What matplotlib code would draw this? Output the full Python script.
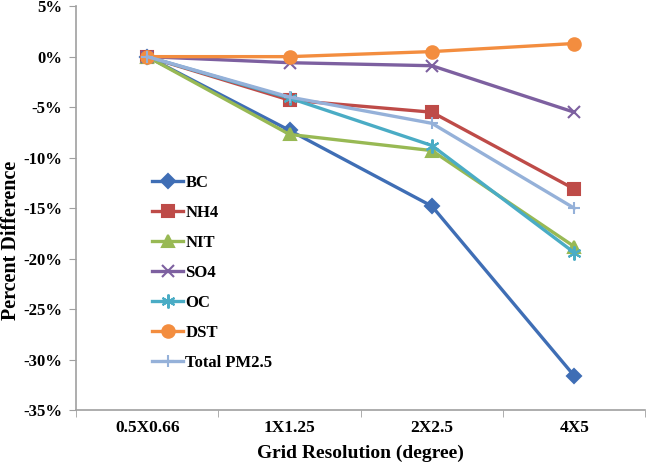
import matplotlib
matplotlib.use("Agg")
import matplotlib.pyplot as plt
from matplotlib.ticker import FuncFormatter

categories = ["0.5X0.66", "1X1.25", "2X2.5", "4X5"]
bc = [0.0, -7.3, -14.8, -31.6]
nh4 = [0.0, -4.3, -5.5, -13.1]
nit = [0.0, -7.7, -9.3, -18.8]
so4 = [0.0, -0.6, -0.9, -5.5]
oc = [0.0, -4.1, -8.8, -19.4]
dst = [0.0, 0.0, 0.5, 1.3]
total = [0.0, -4.0, -6.6, -15.0]

series = [
    ("BC", bc, "#3F6EB5", "D", 7),
    ("NH4", nh4, "#BE4B48", "s", 8),
    ("NIT", nit, "#98B954", "^", 9),
    ("SO4", so4, "#7D60A0", "x", 9),
    ("OC", oc, "#4AACC5", (6, 2, 0), 10),
    ("DST", dst, "#F38D3F", "o", 9),
    ("Total PM2.5", total, "#95B1D9", "+", 9),
]

plt.rcParams["font.family"] = ["Liberation Serif", "DejaVu Serif"]
plt.rcParams["font.weight"] = "bold"

fig = plt.figure(figsize=(6.47, 4.72), dpi=100)
ax = fig.add_axes([0.1175, 0.131, 0.88, 0.856])

x = list(range(len(categories)))
for name, vals, col, mk, ms in series:
    ax.plot(x, vals, color=col, lw=2.4, marker=mk, markersize=ms,
            markeredgecolor=col, markerfacecolor=col, markeredgewidth=1.5, label=name)

ax.set_xlim(-0.5, len(categories) - 0.5)
ax.set_ylim(-35, 5)
ax.set_yticks(range(-35, 6, 5))
ax.yaxis.set_major_formatter(FuncFormatter(lambda v, p: f"{int(round(v))}%"))
ax.set_xticks(x)
ax.set_xticklabels(categories)
ax.set_xticks([i - 0.5 for i in range(len(categories) + 1)], minor=True)
ax.tick_params(axis="x", which="major", length=0, pad=7, labelsize=12.5)
ax.tick_params(axis="x", which="minor", length=5, color="#A0A0A0", direction="out")
ax.tick_params(axis="y", length=5, color="#A0A0A0", labelsize=12, pad=5)

for s in ["top", "right"]:
    ax.spines[s].set_visible(False)
for s in ["left", "bottom"]:
    ax.spines[s].set_color("#A0A0A0")
    ax.spines[s].set_linewidth(1.2)

ax.set_xlabel("Grid Resolution (degree)", fontsize=14, fontweight="bold", labelpad=6)
ax.set_ylabel("Percent Difference", fontsize=14.5, fontweight="bold")
ax.yaxis.set_label_coords(-0.096, 0.42)

leg = ax.legend(loc="upper left", bbox_to_anchor=(0.134, 0.583), frameon=False,
                fontsize=12, handlelength=1.86, handletextpad=0.12,
                labelspacing=0.84, borderaxespad=0, borderpad=0)
for t in leg.get_texts():
    t.set_fontweight("bold")

fig.savefig("out.png", dpi=100)
